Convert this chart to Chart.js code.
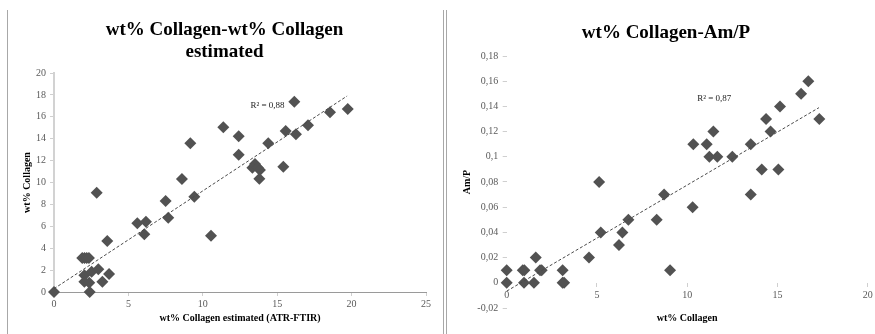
<!DOCTYPE html>
<html>
<head>
<meta charset="utf-8">
<script src="https://cdn.jsdelivr.net/npm/chart.js@4.4.1/dist/chart.umd.min.js"></script>
<style>
  html, body { margin: 0; padding: 0; background: #fff; width: 875px; height: 334px; overflow: hidden; }
  #leftChart { position: absolute; left: 0; top: 0; }
  #rightChart { position: absolute; left: 448px; top: 0; }
  .rule { position: absolute; top: 10px; bottom: 0; width: 1px; background: #a8a8a8; }
</style>
</head>
<body>
<canvas id="leftChart" width="449" height="334"></canvas>
<canvas id="rightChart" width="436" height="334"></canvas>
<div class="rule" style="left:7px"></div>
<div class="rule" style="left:443px"></div>
<div class="rule" style="left:446px"></div>
<script>
// left panel: wt% Collagen vs estimated
const leftX = [0, 2.87, 1.9, 2.05, 2.2, 2.35, 2.04, 2.04, 2.37, 2.4, 2.53, 2.98, 3.25, 3.58, 3.7,
  5.6, 6.18, 6.07, 7.5, 7.68, 8.6, 9.43, 9.16, 10.55, 11.38, 12.41, 12.41, 13.51, 13.33, 13.7,
  13.84, 13.8, 14.4, 15.41, 15.57, 16.26, 16.15, 17.07, 18.55, 19.74];
const leftY = [0, 9.07, 3.1, 3.1, 3.1, 3.1, 1.52, 0.94, 0.85, 0, 1.86, 2.07, 0.94, 4.66, 1.64,
  6.27, 6.42, 5.27, 8.31, 6.79, 10.32, 8.71, 13.58, 5.14, 15.04, 14.22, 12.54, 11.69, 11.35, 11.35,
  11.14, 10.35, 13.58, 11.44, 14.7, 14.4, 17.38, 15.22, 16.41, 16.71];
const leftTrendX = [0, 19.7];
const leftTrendY = [0.3, 17.9];
const leftXTicks = [0, 5, 10, 15, 20, 25];
const leftYTicks = [0, 2, 4, 6, 8, 10, 12, 14, 16, 18, 20];

// right panel: Am/P vs wt% Collagen
const rightX = [0, 0, 0.89, 0.98, 0.96, 1.51, 1.61, 1.85, 1.94, 3.1, 3.1, 3.18, 4.56, 5.12, 5.21,
  6.22, 6.41, 6.74, 8.31, 8.72, 9.05, 10.3, 10.34, 11.08, 11.23, 11.45, 11.67, 12.5, 13.52, 13.52,
  14.13, 14.37, 14.62, 15.05, 15.14, 16.31, 16.71, 17.32];
const rightY = [0, 0.01, 0.01, 0.01, 0, 0, 0.02, 0.01, 0.01, 0.01, 0, 0, 0.02, 0.08, 0.04,
  0.03, 0.04, 0.05, 0.05, 0.07, 0.01, 0.06, 0.11, 0.11, 0.1, 0.12, 0.1, 0.1, 0.11, 0.07,
  0.09, 0.13, 0.12, 0.09, 0.14, 0.15, 0.16, 0.13];
const rightTrendX = [0, 17.3];
const rightTrendY = [-0.0066, 0.139];
const rightXTicks = [0, 5, 10, 15, 20];
const rightYTicks = [-0.02, 0, 0.02, 0.04, 0.06, 0.08, 0.1, 0.12, 0.14, 0.16, 0.18];

const MARK = '#525252';
const TICK = '#5a5a5a';
Chart.defaults.font.family = "'Liberation Serif', 'Times New Roman', serif";

// R² text next to the trendline
const r2Label = {
  id: 'r2label',
  afterDatasetsDraw(chart, args, opts) {
    const { ctx, scales } = chart;
    ctx.save();
    ctx.font = "9px 'Liberation Serif'";
    ctx.fillStyle = '#222';
    ctx.textAlign = 'center';
    ctx.textBaseline = 'middle';
    ctx.fillText(opts.text, scales.x.getPixelForValue(opts.x), scales.y.getPixelForValue(opts.y));
    ctx.restore();
  }
};

const toPoints = (xs, ys) => xs.map((x, i) => ({ x: x, y: ys[i] }));
const setTicks = arr => s => { s.ticks = arr.map(v => ({ value: v })); };
const tickMarks = { display: true, drawOnChartArea: false, drawTicks: true, tickLength: 4, color: '#cfcfcf' };
const padAxis = w => ({
  type: 'linear', position: 'right',
  grid: { display: false }, border: { display: false }, ticks: { display: false },
  afterFit: s => { s.width = w; }
});

function datasets(xs, ys, tx, ty) {
  return [
    {
      data: toPoints(tx, ty), showLine: true, pointRadius: 0,
      borderColor: '#4a4a4a', borderWidth: 1, borderDash: [3, 2], clip: false
    },
    {
      data: toPoints(xs, ys), pointStyle: 'rectRot', pointRadius: 6,
      backgroundColor: MARK, borderWidth: 0, clip: false
    }
  ];
}

new Chart(document.getElementById('leftChart'), {
  type: 'scatter',
  data: { datasets: datasets(leftX, leftY, leftTrendX, leftTrendY) },
  options: {
    responsive: false,
    animation: false,
    layout: { padding: 0 },
    plugins: {
      legend: { display: false },
      tooltip: { enabled: false },
      title: {
        display: true,
        text: ['wt% Collagen-wt% Collagen', 'estimated'],
        color: '#000',
        font: { size: 19, weight: 'bold', lineHeight: 22 / 19 },
        padding: { top: 19, bottom: 10 }
      },
      r2label: { text: 'R² = 0,88', x: 14.35, y: 17.0 }
    },
    scales: {
      x: {
        type: 'linear', min: 0, max: 25,
        afterBuildTicks: setTicks(leftXTicks),
        afterFit: s => { s.height = 42; },
        grid: tickMarks,
        border: { color: '#9a9a9a', width: 1 },
        ticks: { color: TICK, font: { size: 10 }, padding: 2, maxRotation: 0 },
        title: {
          display: true, text: 'wt% Collagen estimated (ATR-FTIR)', color: '#000',
          font: { size: 10, weight: 'bold' }, padding: { top: 0, bottom: 10 }
        }
      },
      y: {
        type: 'linear', min: 0, max: 20,
        afterBuildTicks: setTicks(leftYTicks),
        afterFit: s => { s.width = 54; },
        grid: tickMarks,
        border: { color: '#d2d2d2', width: 2 },
        ticks: { color: TICK, font: { size: 10 }, padding: 4 },
        title: {
          display: true, text: 'wt% Collagen', color: '#000',
          font: { size: 10, weight: 'bold' }, padding: { top: 21, bottom: 0 }
        }
      },
      yPad: padAxis(23)
    }
  },
  plugins: [r2Label]
});

new Chart(document.getElementById('rightChart'), {
  type: 'scatter',
  data: { datasets: datasets(rightX, rightY, rightTrendX, rightTrendY) },
  options: {
    responsive: false,
    animation: false,
    layout: { padding: 0 },
    plugins: {
      legend: { display: false },
      tooltip: { enabled: false },
      title: {
        display: true,
        text: 'wt% Collagen-Am/P',
        color: '#000',
        font: { size: 19, weight: 'bold', lineHeight: 22 / 19 },
        padding: { top: 22, bottom: 12 }
      },
      r2label: { text: 'R² = 0,87', x: 11.5, y: 0.146 }
    },
    scales: {
      x: {
        type: 'linear', min: 0, max: 20,
        afterFit: s => { s.height = 26; },
        grid: { display: false },
        border: { display: false },
        ticks: { display: false },
        title: {
          display: true, text: 'wt% Collagen', color: '#000',
          font: { size: 10, weight: 'bold' }, padding: { top: 0, bottom: 10 }
        }
      },
      x2: {
        type: 'linear', axis: 'x', min: 0, max: 20,
        position: { y: 0 },
        afterBuildTicks: setTicks(rightXTicks),
        grid: tickMarks,
        border: { display: false },
        ticks: { color: TICK, font: { size: 10 }, padding: 3, maxRotation: 0 }
      },
      y: {
        type: 'linear', min: -0.02, max: 0.18,
        afterBuildTicks: setTicks(rightYTicks),
        afterFit: s => { s.width = 58.7; },
        grid: tickMarks,
        border: { display: false },
        ticks: {
          color: TICK, font: { size: 10 }, padding: 4.5,
          callback: v => String(v).replace('.', ',')
        },
        title: {
          display: true, text: 'Am/P', color: '#000',
          font: { size: 10, weight: 'bold' }, padding: { top: 13, bottom: 0 }
        }
      },
      yPad: padAxis(16.3)
    }
  },
  plugins: [r2Label]
});
</script>
</body>
</html>
